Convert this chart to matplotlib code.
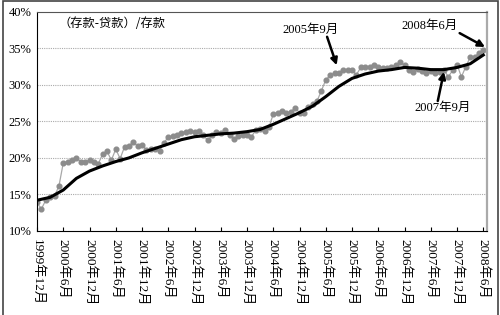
import matplotlib
matplotlib.use("Agg")
import matplotlib.pyplot as plt
from matplotlib.patches import Rectangle

# (存款-贷款)/存款, 月度, 1999年12月 - 2008年6月
ratio = [13.9, 13.0, 14.2, 14.6, 14.8, 16.1, 19.3, 19.5, 19.7, 20.0, 19.5, 19.5,
         19.7, 19.4, 19.2, 20.5, 20.9, 19.7, 21.2, 19.9, 21.5, 21.6, 22.2, 21.6,
         21.8, 21.1, 21.2, 21.2, 21.0, 22.1, 22.8, 23.0, 23.2, 23.4, 23.6, 23.7,
         23.6, 23.7, 23.2, 22.4, 23.1, 23.5, 23.4, 23.8, 23.1, 22.6, 23.0, 23.2,
         23.2, 22.9, 23.8, 24.0, 23.7, 24.2, 26.0, 26.2, 26.4, 26.1, 26.3, 26.85,
         26.2, 26.2, 27.0, 27.4, 27.8, 29.2, 30.7, 31.3, 31.6, 31.7, 32.0, 32.1,
         32.0, 31.4, 32.4, 32.4, 32.4, 32.7, 32.4, 32.3, 32.3, 32.5, 32.7, 33.1,
         32.7, 32.0, 31.8, 32.25, 31.9, 31.6, 31.9, 31.6, 31.8, 32.1, 31.1, 32.0,
         32.8, 31.1, 32.5, 33.8, 33.8, 34.4, 34.8]

# 趋势线 (每季度读一次)
trend_month = list(range(0, 103, 3))
trend = [14.2, 14.6, 15.6, 17.2, 18.2, 18.9, 19.5, 20.0, 20.7, 21.3, 21.9, 22.5,
         22.9, 23.1, 23.3, 23.4, 23.6, 23.9, 24.6, 25.4, 26.2, 27.1, 28.4, 29.8,
         30.9, 31.5, 31.9, 32.1, 32.4, 32.3, 32.1, 32.1, 32.4, 32.9, 34.1]

tick_labels = ["1999年12月", "2000年6月", "2000年12月", "2001年6月", "2001年12月",
               "2002年6月", "2002年12月", "2003年6月", "2003年12月", "2004年6月",
               "2004年12月", "2005年6月", "2005年12月", "2006年6月", "2006年12月",
               "2007年6月", "2007年12月", "2008年6月"]
yticks = [10, 15, 20, 25, 30, 35, 40]

fonts = ["Liberation Serif", "Noto Sans CJK SC"]
plt.rcParams["font.family"] = fonts

fig = plt.figure(figsize=(5, 3.15), dpi=100)
ax = fig.add_axes([0.074, 0.267, 0.9, 0.695])

ax.plot(range(len(ratio)), ratio, color="#a8a8a8", lw=0.9, marker="o",
        markersize=3.4, markerfacecolor="#8c8c8c", markeredgecolor="#8c8c8c", zorder=2)
ax.plot(trend_month, trend, color="black", lw=2.2, zorder=3)

ax.set_xlim(0, 102.85)
ax.set_ylim(10, 40)
ax.set_yticks(yticks)
ax.set_yticklabels(["%d%%" % v for v in yticks], fontsize=9)
ax.set_xticks(range(0, 103, 6))
ax.set_xticklabels(tick_labels, rotation=-90, fontsize=9.5, va="top", ha="center")
ax.tick_params(axis="x", direction="in", length=3, pad=6)
ax.tick_params(axis="y", length=0, pad=4)

for v in yticks[1:-1]:
    ax.axhline(v, color="#aaaaaa", lw=0.8, ls=(0, (1, 1)), zorder=1)

ax.spines["left"].set_color("black")
ax.spines["bottom"].set_color("black")
ax.spines["top"].set_color("#555555")
ax.spines["right"].set_color("#aaaaaa")
ax.spines["right"].set_linewidth(1.6)

ax.text(4.8, 38.4, "（存款-贷款）/存款", fontsize=8.8, va="center", ha="left",
        family=["Noto Sans CJK SC"])

# 标注文字和箭头
ax.text(62.6, 37.5, "2005年9月", fontsize=9, ha="center", va="center")
ax.text(89.8, 38.1, "2008年6月", fontsize=9, ha="center", va="center")
ax.text(92.7, 26.8, "2007年9月", fontsize=9, ha="center", va="center")

arrow = dict(arrowstyle="-|>", color="black", lw=1.8, mutation_scale=10,
             shrinkA=0, shrinkB=0)
ax.annotate("", xy=(68.5, 32.7), xytext=(66.3, 36.6), arrowprops=arrow)
ax.annotate("", xy=(102.4, 35.2), xytext=(96.6, 37.1), arrowprops=arrow)
ax.annotate("", xy=(93.0, 31.8), xytext=(91.6, 27.8), arrowprops=arrow)

fig.patches.append(Rectangle((0.005, -0.01), 0.99, 1.007, transform=fig.transFigure,
                             fill=False, edgecolor="#444444", lw=1.2))

fig.savefig("out.png", dpi=100)
